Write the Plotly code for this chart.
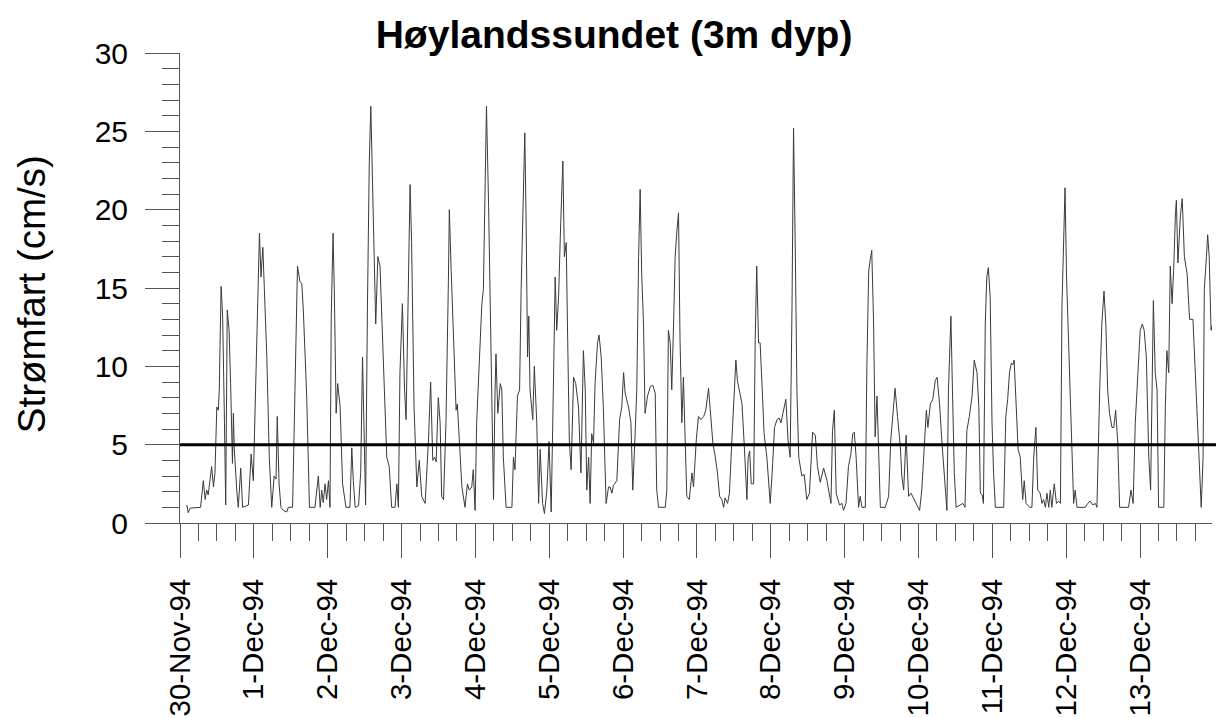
import numpy as np
import pandas as pd
import plotly.graph_objects as go

TITLE = "Høylandssundet (3m dyp)"
Y_TITLE = "Strømfart (cm/s)"
START = "1994-11-30 00:00"
THRESHOLD = 5
# hours after start and current speed in cm/s
HOURS = [
    2.2, 2.7, 3.3, 6.7, 7.6, 8.2, 8.7, 9.2, 10.3, 10.9, 11.4, 12.0, 12.5, 12.8, 13.4, 13.9, 14.5, 14.9,
    15.4, 16.0, 16.5, 17.1, 17.4, 17.7, 18.5, 19.0, 19.8, 20.4, 22.3, 23.2, 23.9, 24.5, 25.2, 25.9,
    26.4, 27.0, 27.5, 28.3, 29.1, 29.9, 30.7, 31.3, 31.7, 32.3, 32.9, 33.7, 34.8, 35.3, 36.7, 37.5,
    38.3, 39.1, 39.7, 40.2, 41.3, 42.2, 44.0, 45.1, 45.7, 46.2, 46.7, 47.3, 47.8, 48.4, 48.9, 49.3,
    49.9, 50.3, 50.9, 51.4, 52.2, 53.0, 54.1, 55.4, 56.0, 56.5, 57.1, 58.2, 58.9, 59.5, 60.0, 60.5,
    61.1, 61.7, 62.2, 62.7, 63.3, 63.8, 64.5, 65.2, 65.8, 66.9, 67.4, 68.2, 69.0, 70.1, 70.7, 71.2,
    71.7, 72.5, 73.2, 73.7, 74.5, 75.0, 75.5, 76.3, 77.2, 78.0,
    78.8, 79.9, 81.0, 81.7, 82.4, 83.0, 83.5, 84.2, 84.8, 85.3, 85.9, 86.7, 87.5, 87.8, 88.4, 89.1,
    90.0, 90.4, 91.1, 91.9, 92.9, 93.7, 94.3, 95.1, 95.6, 96.2, 96.7, 97.6, 98.4, 98.9, 99.5, 99.9,
    100.6, 101.1, 101.6, 102.2, 102.7, 103.0, 103.6, 104.4, 104.9, 105.4, 106.3, 108.2, 108.7, 109.2,
    110.0, 110.7, 111.2, 112.0, 112.4, 112.8, 113.3, 113.7, 114.1, 115.0, 115.5, 116.3, 116.9, 117.4,
    118.2, 118.8, 119.6, 120.3, 121.0, 121.7, 122.3, 122.8, 123.4, 124.1, 124.8, 125.3, 125.9, 126.3,
    126.9, 127.5, 128.3, 129.0, 129.9, 130.7, 131.5, 132.1, 132.6, 133.2, 133.7, 134.2, 134.8, 135.3,
    136.1, 136.6, 137.3, 138.0, 138.9, 139.7,
    140.2, 140.8, 141.3, 142.4, 143.3, 144.0, 144.6, 145.1, 146.2, 147.0, 147.6, 148.4, 148.9, 149.5,
    150.0, 150.5, 151.1, 151.6, 152.4, 153.3, 154.1, 154.9, 155.4, 156.0, 158.2, 158.7, 159.2, 159.8,
    160.3, 160.9, 161.4, 162.0, 162.5, 163.0, 163.6, 164.1, 164.7, 165.2, 166.0, 166.9, 167.4, 168.3,
    169.0, 169.8, 170.7, 171.4, 172.3, 172.8, 173.7, 174.5, 175.2, 175.9, 176.6, 177.2, 177.7, 178.5,
    179.1, 179.9, 180.7, 181.2, 181.7, 182.4, 183.2, 183.9, 184.8, 185.2, 185.7, 186.2, 187.0, 187.5,
    188.0, 188.6, 189.1, 189.8, 190.4, 191.3, 192.4, 193.2, 193.8, 194.6, 195.3, 195.9, 196.5, 197.5,
    198.2, 198.9, 199.5, 200.0, 200.6, 201.1, 201.7,
    202.7, 203.5, 204.3, 205.2, 206.2, 207.1, 207.8, 208.7, 209.8, 210.9, 212.2, 212.7, 213.3, 213.9,
    215.0, 215.8, 216.3, 217.1, 217.9, 218.7, 219.3, 219.8, 220.4, 221.2, 221.7, 222.3, 223.4, 223.9,
    224.5, 225.0, 225.5, 226.1, 226.6, 227.2, 227.7, 228.3, 229.9, 231.0, 231.7, 232.4, 233.1, 233.9,
    234.8, 235.3, 235.9, 236.7, 237.5, 238.3, 239.1, 240.2, 241.1, 241.8, 242.7, 243.3, 243.8, 244.6,
    245.4, 246.2, 246.8, 247.6, 248.4, 249.2, 250.0, 250.5, 251.3, 251.8, 252.4, 253.0, 254.3, 255.2,
    255.9, 256.5, 257.3, 258.2, 258.9, 259.8, 260.4, 260.9, 261.5, 261.9, 262.5, 263.0, 263.5, 264.1,
    264.7, 265.2, 265.8, 268.5, 269.2, 269.8, 270.4, 271.0, 271.5, 271.9, 272.6, 273.2, 273.9, 274.7,
    275.2, 275.8, 276.3, 277.0, 277.7, 278.3, 279.0, 279.6, 280.4, 281.0, 281.5, 282.1, 282.6, 283.2,
    283.7, 284.2, 285.0, 285.7, 286.4, 287.0, 287.5, 288.0, 288.5, 289.0, 289.7, 290.4, 291.3, 291.8,
    292.4, 295.1, 295.9, 296.7, 297.6, 298.4, 298.9, 299.8, 300.5, 301.2, 301.8, 302.4, 303.0, 303.8,
    304.4, 305.0, 305.7, 306.3, 309.2, 310.0, 310.7, 311.4, 312.3, 313.0, 313.7, 314.3, 315.0, 315.8,
    316.4, 316.9, 317.3, 317.9, 318.5, 319.0, 320.7, 321.2, 321.7, 322.3, 322.8, 323.4, 323.9, 324.5,
    324.8, 325.3, 326.1, 326.7, 327.4, 328.3, 329.1, 330.2, 331.0, 331.7, 332.3, 332.9, 333.5, 333.9,
    334.6, 335.0, 335.5, 336.1, 336.4,
]
SPEED = [
    1.15, 0.66, 0.95, 1.0, 2.7, 1.5, 2.1, 1.8, 3.6, 2.3, 3.2, 7.4, 7.2, 8.5, 15.1, 13.2, 6.4, 1.15,
    13.6, 12.3, 8.9, 3.8, 7.0, 4.7, 2.1, 1.0, 3.5, 1.0, 1.15, 4.4, 2.7, 7.4, 13.6, 18.5,
    15.7, 17.6, 14.9, 10.6, 4.2, 1.0, 3.0, 2.8, 6.8, 2.5, 1.0, 0.8, 0.7, 1.0, 1.0, 9.3,
    16.4, 15.4, 15.3, 13.6, 8.1, 1.0, 1.0, 3.0, 1.0, 2.1, 1.3, 2.5, 1.5, 2.7, 1.0, 13.2,
    18.5, 14.9, 7.0, 8.9, 7.4, 2.5, 1.0, 1.0, 4.8, 2.7, 1.0, 1.1, 3.2, 10.6, 5.9, 1.15,
    13.8, 23.0, 26.6, 21.3, 17.0, 12.7, 17.0, 16.4, 12.7, 6.4, 4.2, 3.6, 1.0, 1.0, 2.5, 1.0,
    9.6, 14.0, 8.5, 6.6, 14.9, 21.6, 17.9, 7.4, 2.3, 4.0,
    1.7, 1.25, 5.3, 9.0, 4.0, 4.2, 3.9, 8.0, 6.4, 1.7, 1.5, 6.4, 15.5, 20.0, 16.1, 11.5,
    7.2, 7.6, 5.3, 2.3, 1.0, 2.5, 2.1, 2.3, 3.4, 0.8, 6.4, 10.6, 14.0, 14.9, 21.3, 26.6,
    20.2, 13.8, 7.4, 1.5, 8.5, 10.8, 7.0, 8.9, 8.5, 4.2, 1.0, 1.0, 4.2, 3.4,
    8.1, 8.5, 14.9, 21.3, 24.9, 19.6, 10.6, 13.2, 8.5, 6.6, 10.0, 6.4, 1.25, 4.7,
    1.25, 0.6, 2.1, 5.2, 0.7, 8.5, 15.7, 12.3, 14.4, 19.1, 23.1, 17.0, 17.9, 12.7,
    5.3, 3.4, 9.3, 8.9, 7.4, 3.2, 11.0, 8.5, 2.1, 4.2, 1.25, 5.7, 5.1, 8.9,
    11.5, 12.0, 10.6, 7.4, 1.25, 2.3,
    2.3, 1.9, 2.4, 2.7, 6.6, 7.4, 9.6, 8.3, 7.4, 6.4, 2.1, 5.9, 8.5, 17.0,
    21.3, 15.9, 12.7, 7.0, 8.1, 8.7, 8.8, 8.3, 2.1, 1.0, 1.0, 2.1, 12.3, 11.5,
    8.5, 12.7, 17.0, 18.7, 19.8, 11.7, 6.4, 9.3, 5.3, 1.7, 1.5, 3.2, 2.3, 5.3,
    6.8, 6.6, 6.8, 7.2, 8.6, 7.2, 5.1, 4.2, 3.2, 1.7, 1.5, 1.0, 1.6, 1.25,
    1.9, 5.3, 8.5, 10.4, 9.1, 8.3, 7.6, 5.1, 1.5, 4.2, 4.6, 2.5, 2.5, 11.7,
    16.4, 11.5, 11.5, 8.5, 5.7, 4.2, 1.25, 3.8, 6.1, 6.6, 6.7, 6.4, 7.0, 7.9,
    5.3, 4.2, 13.8, 25.2, 17.0, 8.5, 4.2,
    3.0, 3.1, 1.5, 1.9, 5.8, 5.6, 3.6, 2.6, 3.5, 2.7, 1.25, 5.9, 7.2, 1.9,
    1.15, 1.25, 0.8, 1.25, 3.6, 4.4, 5.7, 5.8, 4.2, 1.0, 1.7, 1.0, 1.0, 10.0,
    16.1, 16.8, 17.4, 12.7, 5.5, 8.1, 5.1, 1.0, 1.0, 1.7, 5.3, 7.2, 8.6, 6.8,
    4.9, 3.0, 2.1, 5.6, 1.7, 1.9, 1.6, 1.15, 0.8, 2.1, 5.5, 7.2, 6.1, 7.6,
    7.9, 9.1, 9.3, 7.6, 5.1, 3.0, 0.8, 8.5, 13.2, 8.5, 3.2, 1.0, 1.15, 1.25,
    1.0, 5.9, 6.8, 8.1, 10.4, 9.6, 7.4, 1.9, 1.8, 1.25, 12.7, 15.7, 16.3, 14.4,
    6.4, 3.2, 1.0, 1.0, 6.8, 7.9, 9.6, 10.2, 10.1, 10.4, 7.4, 4.7, 4.2, 1.5,
    2.7, 1.25, 1.15, 1.0, 1.0, 4.2, 6.1, 2.1, 1.9, 1.25, 1.5, 1.0, 1.9, 1.0,
    2.1, 1.0, 2.5, 1.25, 1.4, 1.25, 13.8, 17.4, 21.4, 15.7, 11.7, 6.4, 1.25, 2.1,
    1.0, 1.0, 1.25, 1.4, 1.15, 1.25, 1.0, 8.5, 12.7, 14.8, 12.7, 8.5, 7.0, 6.1,
    6.1, 7.2, 5.1, 1.0, 1.0, 2.1, 1.25, 6.4, 9.6, 12.3, 12.7, 12.3, 10.6, 4.2,
    2.1, 8.5, 14.2, 9.6, 8.5, 1.0, 1.0, 7.4, 11.0, 9.6, 16.4, 14.0, 16.1, 19.8,
    20.6, 16.6, 19.6, 20.7, 17.0, 15.9, 13.0, 13.0, 9.6, 6.8, 4.2, 1.0, 4.2, 14.9,
    17.0, 18.4, 17.0, 12.3, 12.6,
]
# pixel-reading calibration of the time readings to the axis day spacing
TIME_CAL = 0.997
RANGE_END_HOURS = 335.4

FONT = "Liberation Sans, Arial, sans-serif"
start = pd.Timestamp(START)
times = start + pd.to_timedelta(np.array(HOURS) * TIME_CAL, unit="h")
x_end = start + pd.to_timedelta(RANGE_END_HOURS, unit="h")

fig = go.Figure()
fig.add_trace(go.Scatter(
    x=times, y=SPEED, mode="lines",
    line=dict(color="#3a3a3a", width=1),
    showlegend=False, hoverinfo="x+y",
))
fig.add_shape(type="line", xref="paper", yref="y", x0=0, x1=1.004,
              y0=THRESHOLD, y1=THRESHOLD, line=dict(color="black", width=3))
fig.add_annotation(text=Y_TITLE, textangle=-90, xref="paper", yref="paper",
                   x=-0.1439, y=0.488, xanchor="center", yanchor="middle",
                   showarrow=False, font=dict(size=38.5, family=FONT, color="black"))

fig.update_layout(
    width=1216, height=718,
    margin=dict(l=180, r=4, t=53, b=195, autoexpand=False),
    paper_bgcolor="white", plot_bgcolor="white",
    font=dict(family=FONT, color="black"),
    title=dict(text=f"<b>{TITLE}</b>", x=0.505, xanchor="center",
               y=0.9526, yanchor="middle", font=dict(size=39, family=FONT)),
)
fig.update_xaxes(
    type="date", range=[start, x_end], automargin=False,
    showline=True, linecolor="#555", linewidth=1, showgrid=False, zeroline=False,
    ticks="outside", ticklen=34, tickcolor="#555", tickwidth=1,
    tick0=start, dtick=86400000, tickformat="%-d-%b-%y", tickangle=-90,
    tickfont=dict(size=29.5, family=FONT, color="black"), ticklabelstandoff=9,
    minor=dict(dtick=6 * 3600000, ticks="outside", ticklen=17, tickcolor="#555", tickwidth=1, showgrid=False),
)
fig.update_yaxes(
    range=[0, 30], automargin=False,
    showline=True, linecolor="#555", linewidth=1, showgrid=False, zeroline=False,
    ticks="outside", ticklen=34, tickcolor="#555", tickwidth=1, dtick=5, tick0=0,
    tickfont=dict(size=30, family=FONT, color="black"), ticklabelstandoff=11,
    minor=dict(dtick=1, ticks="outside", ticklen=17, tickcolor="#555", tickwidth=1, showgrid=False),
)
fig.write_html("out.html", config={"displayModeBar": False},
               post_script="document.body.style.margin='0';")
